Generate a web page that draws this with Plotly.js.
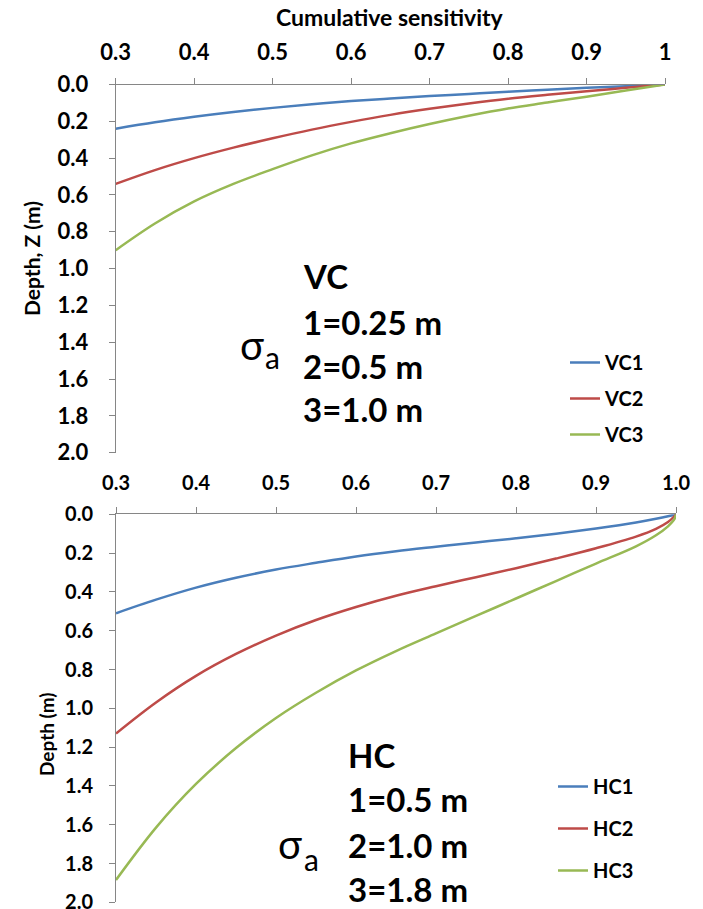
<!DOCTYPE html>
<html>
<head>
<meta charset="utf-8">
<script src="https://cdn.plot.ly/plotly-3.0.1.min.js"></script>
<style>html,body{margin:0;padding:0;background:#fff;}#chart{width:703px;height:909px;}</style>
</head>
<body>
<div id="chart"></div>
<script>
// ---- data ----
const vcSens = [0.3, 0.35, 0.4, 0.45, 0.5, 0.55, 0.6, 0.65, 0.7, 0.75, 0.8, 0.85, 0.9, 0.95, 1.0];
const vc1Depth = [0.24, 0.205, 0.175, 0.149, 0.127, 0.107, 0.09, 0.076, 0.063, 0.051, 0.039, 0.028, 0.018, 0.009, 0];
const vc2Depth = [0.54, 0.465, 0.40, 0.343, 0.292, 0.245, 0.203, 0.165, 0.132, 0.103, 0.077, 0.056, 0.037, 0.018, 0];
const vc3Depth = [0.90, 0.755, 0.635, 0.54, 0.46, 0.385, 0.32, 0.265, 0.215, 0.17, 0.13, 0.098, 0.066, 0.033, 0];

const hcSens = [0.3, 0.35, 0.4, 0.45, 0.5, 0.55, 0.6, 0.65, 0.7, 0.75, 0.8, 0.85, 0.9, 0.95, 0.975, 0.99, 0.998, 1.0];
const hc1Depth = [0.51, 0.44, 0.378, 0.327, 0.285, 0.25, 0.217, 0.19, 0.167, 0.145, 0.124, 0.10, 0.073, 0.042, 0.023, 0.01, 0.002, 0];
const hc2Depth = [1.13, 0.97, 0.833, 0.72, 0.625, 0.545, 0.478, 0.42, 0.371, 0.324, 0.278, 0.228, 0.175, 0.115, 0.075, 0.04, 0.01, 0];
const hc3Depth = [1.885, 1.615, 1.39, 1.205, 1.05, 0.92, 0.805, 0.705, 0.614, 0.524, 0.434, 0.344, 0.254, 0.165, 0.108, 0.062, 0.025, 0];

const xTicks = [0.3, 0.4, 0.5, 0.6, 0.7, 0.8, 0.9, 1.0];
const yTicks = [0, 0.2, 0.4, 0.6, 0.8, 1.0, 1.2, 1.4, 1.6, 1.8, 2.0];

const vcNames = ['VC1', 'VC2', 'VC3'];
const hcNames = ['HC1', 'HC2', 'HC3'];
const vcLabel = ['VC', '1=0.25 m', '2=0.5 m', '3=1.0 m'];
const hcLabel = ['HC', '1=0.5 m', '2=1.0 m', '3=1.8 m'];

// ---- styling ----
const colors = ['#4A7EBB', '#BE4B48', '#98B954'];
const AXC = '#868686';
const CLEAR = 'rgba(0,0,0,0)';
const FONT = 'Lato, "Open Sans", sans-serif';
const W = 703, H = 909;
const px = v => v / W;
const py = v => 1 - v / H;

const traces = [];
[vc1Depth, vc2Depth, vc3Depth].forEach((d, i) => {
  traces.push({
    x: vcSens, y: d, type: 'scatter', mode: 'lines', name: vcNames[i],
    line: {color: colors[i], width: 2.5, shape: 'spline'},
    xaxis: 'x', yaxis: 'y', legend: 'legend', legendgroup: 'v' + i
  });
});
[hc1Depth, hc2Depth, hc3Depth].forEach((d, i) => {
  traces.push({
    x: hcSens, y: d, type: 'scatter', mode: 'lines', name: hcNames[i],
    line: {color: colors[i], width: 2.5, shape: 'spline'},
    xaxis: 'x2', yaxis: 'y2', legend: 'legend2', legendgroup: 'h' + i
  });
});
// invisible carrier traces so the tick-mark overlay axes get drawn
[['x3', 'y', vcSens, vc1Depth], ['x', 'y3', vcSens, vc1Depth],
 ['x4', 'y2', hcSens, hc1Depth], ['x2', 'y4', hcSens, hc1Depth]].forEach(([xa, ya, xs, ys]) => {
  traces.push({x: xs, y: ys, type: 'scatter', mode: 'lines', xaxis: xa, yaxis: ya,
    line: {color: CLEAR, width: 0}, showlegend: false, hoverinfo: 'skip'});
});

const base = {showgrid: false, zeroline: false, fixedrange: true, ticklabeloverflow: 'allow'};
const labelAxis = (o) => Object.assign({}, base, {showline: true, linecolor: AXC, linewidth: 1,
  ticks: 'outside', tickcolor: CLEAR}, o);
const tickAxis = (o) => Object.assign({}, base, {showline: false, showticklabels: false,
  ticks: 'outside', ticklen: 6, tickwidth: 1, tickcolor: AXC}, o);

const annotations = [];
annotations.push({text: 'Cumulative sensitivity', x: px(390), y: py(17), xref: 'paper', yref: 'paper',
  showarrow: false, xanchor: 'center', yanchor: 'middle', font: {family: FONT, size: 23, weight: 'bold', color: '#000'}});
annotations.push({text: 'Depth, Z (m)', x: px(31), y: py(259), xref: 'paper', yref: 'paper', textangle: -90,
  showarrow: false, xanchor: 'center', yanchor: 'middle', font: {family: FONT, size: 21, weight: 'bold', color: '#000'}});
annotations.push({text: 'Depth (m)', x: px(46), y: py(734), xref: 'paper', yref: 'paper', textangle: -90,
  showarrow: false, xanchor: 'center', yanchor: 'middle', font: {family: FONT, size: 19, weight: 'bold', color: '#000'}});

const vcY = [276, 322, 366, 409];
vcLabel.forEach((t, i) => annotations.push({text: t, x: px(301), y: py(vcY[i]), xref: 'paper', yref: 'paper',
  showarrow: false, xanchor: 'left', yanchor: 'middle', font: {family: FONT, size: 33, weight: 'bold', color: '#000'}}));
const hcY = [755, 799, 845, 889];
hcLabel.forEach((t, i) => annotations.push({text: t, x: px(346), y: py(hcY[i]), xref: 'paper', yref: 'paper',
  showarrow: false, xanchor: 'left', yanchor: 'middle', font: {family: FONT, size: 33, weight: 'bold', color: '#000'}}));

function sigma(xs, ys, xa, ya) {
  annotations.push({text: 'σ', x: px(xs), y: py(ys), xref: 'paper', yref: 'paper', showarrow: false,
    xanchor: 'center', yanchor: 'middle', font: {family: FONT, size: 40, color: '#000'}});
  annotations.push({text: 'a', x: px(xa), y: py(ya), xref: 'paper', yref: 'paper', showarrow: false,
    xanchor: 'center', yanchor: 'middle', font: {family: FONT, size: 30, color: '#000'}});
}
sigma(252, 345, 272, 357);
sigma(290, 844, 311, 859);

const xDom1 = [px(115.7), px(665)], yDom1 = [py(452.7), py(84.5)];
const xDom2 = [px(116), px(676)], yDom2 = [py(902.3), py(514.3)];

const layout = {
  width: W, height: H,
  margin: {l: 0, r: 0, t: 0, b: 0},
  paper_bgcolor: '#fff', plot_bgcolor: 'rgba(0,0,0,0)',
  font: {family: FONT, color: '#000'},
  xaxis: labelAxis({domain: xDom1, range: [0.3, 1.0], anchor: 'y', side: 'top',
    tickvals: xTicks, tickformat: '', ticklen: 15,
    tickfont: {family: FONT, size: 22, weight: 'bold', color: '#000'}}),
  yaxis: labelAxis({domain: yDom1, range: [2.0, 0], anchor: 'x',
    tickvals: yTicks, tickformat: '.1f', ticklen: 22,
    tickfont: {family: FONT, size: 22, weight: 'bold', color: '#000'}}),
  xaxis2: labelAxis({domain: xDom2, range: [0.3, 1.0], anchor: 'y2', side: 'top',
    tickvals: xTicks, tickformat: '.1f', ticklen: 15,
    tickfont: {family: FONT, size: 20, weight: 'bold', color: '#000'}}),
  yaxis2: labelAxis({domain: yDom2, range: [2.0, 0], anchor: 'x2',
    tickvals: yTicks, tickformat: '.1f', ticklen: 18,
    tickfont: {family: FONT, size: 20, weight: 'bold', color: '#000'}}),
  xaxis3: tickAxis({overlaying: 'x', anchor: 'y', side: 'top', range: [0.3, 1.0], tickvals: xTicks}),
  yaxis3: tickAxis({overlaying: 'y', anchor: 'x', side: 'left', range: [2.0, 0], tickvals: yTicks}),
  xaxis4: tickAxis({overlaying: 'x2', anchor: 'y2', side: 'top', range: [0.3, 1.0], tickvals: xTicks}),
  yaxis4: tickAxis({overlaying: 'y2', anchor: 'x2', side: 'left', range: [2.0, 0], tickvals: yTicks}),
  legend: {
    x: px(565), y: py(343), xanchor: 'left', yanchor: 'top', bgcolor: 'rgba(0,0,0,0)',
    traceorder: 'grouped', tracegroupgap: 7, borderwidth: 0,
    font: {family: FONT, size: 20, weight: 'bold', color: '#000'}
  },
  legend2: {
    x: px(553), y: py(767), xanchor: 'left', yanchor: 'top', bgcolor: 'rgba(0,0,0,0)',
    traceorder: 'grouped', tracegroupgap: 13, borderwidth: 0,
    font: {family: FONT, size: 20, weight: 'bold', color: '#000'}
  },
  showlegend: true,
  annotations: annotations
};

Plotly.newPlot('chart', traces, layout, {displayModeBar: false, staticPlot: true});
</script>
</body>
</html>
